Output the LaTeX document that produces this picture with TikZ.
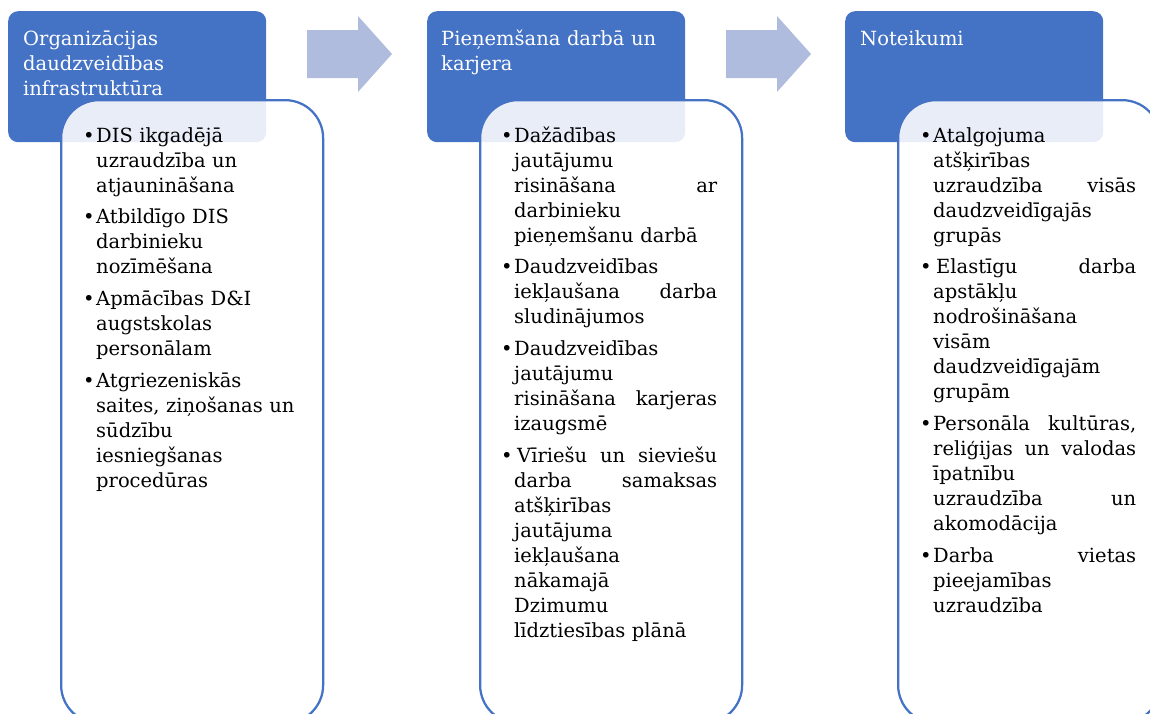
\documentclass[tikz,border=0pt]{standalone}
\usepackage{fontspec}
\setmainfont{DejaVu Serif}
\setlength\parindent{0pt}
\definecolor{hdr}{RGB}{68,114,196}
\definecolor{arr}{RGB}{175,188,222}
\newcommand\bul{\hspace*{0pt}\makebox[0pt][r]{•\hspace{1.5pt}}}
\tikzset{
  hdrbox/.style={fill=hdr, draw=none, rounded corners=10pt, anchor=north west,
    minimum width=258pt, minimum height=131pt, inner sep=0pt},
  bodybox/.style={draw=hdr, line width=2.25pt, fill=white, fill opacity=0.88,
    rounded corners=38pt, anchor=north west, minimum width=262pt, minimum height=623pt, inner sep=0pt},
  hdrtext/.style={anchor=north west, inner sep=0pt, text=white, align=left,
    text width=240pt, font=\fontsize{19.5}{25}\selectfont},
  itemtext/.style={anchor=north west, inner sep=0pt, text=black, align=left,
    text width=203pt, font=\fontsize{19.5}{25}\selectfont},
  arrowshape/.style={fill=arr, draw=none}
}
\begin{document}
\begin{tikzpicture}[x=1pt,y=-1pt]
\useasboundingbox (0,0) rectangle (1150,713);
\clip (0,0) rectangle (1150,713);
% arrows
\fill[arrowshape] (307,30) -- (358,30) -- (358,16) -- (392,54) -- (358,92) -- (358,78) -- (307,78) -- cycle;
\fill[arrowshape] (726,30) -- (777,30) -- (777,16) -- (811,54) -- (777,92) -- (777,78) -- (726,78) -- cycle;
% headers
\node[hdrbox] (h1) at (8,11) {};
\node[hdrbox] (h2) at (427,11) {};
\node[hdrbox] (h3) at (845,11) {};
% bodies
\node[bodybox] (b1) at (60,99) {};
\node[bodybox] (b2) at (479,99) {};
\node[bodybox] (b3) at (897,99) {};
% header texts
\node[hdrtext] (t1) at (23,29) {\rule{0pt}{16pt}Organizācijas\\daudzveidības\\infrastruktūra};
\node[hdrtext] (t2) at (441,29) {\rule{0pt}{16pt}Pieņemšana darbā un\\karjera};
\node[hdrtext] (t3) at (860,29) {\rule{0pt}{16pt}Noteikumi};
% body texts
\node[itemtext] (l1) at (96,126) {\rule{0pt}{16pt}\bul DIS ikgadējā\\
uzraudzība un\\
atjaunināšana\\[6.7pt]
\bul Atbildīgo DIS\\
darbinieku\\
nozīmēšana\\[6.7pt]
\bul Apmācības D\&I\\
augstskolas\\
personālam\\[6.7pt]
\bul Atgriezeniskās\\
saites, ziņošanas un\\
sūdzību\\
iesniegšanas\\
procedūras};
\node[itemtext] (l2) at (514,126) {\rule{0pt}{16pt}\bul Dažādības\\
jautājumu\\
risināšana\hfill ar\\
darbinieku\\
pieņemšanu darbā\\[6.7pt]
\bul Daudzveidības\\
iekļaušana\hfill darba\\
sludinājumos\\[6.7pt]
\bul Daudzveidības\\
jautājumu\\
risināšana\hfill karjeras\\
izaugsmē\\[6.7pt]
\bul\hspace{3pt}Vīriešu\hfill un\hfill sieviešu\\
darba\hfill samaksas\\
atšķirības\\
jautājuma\\
iekļaušana\\
nākamajā\\
Dzimumu\\
līdztiesības plānā};
\node[itemtext] (l3) at (933,126) {\rule{0pt}{16pt}\bul Atalgojuma\\
atšķirības\\
uzraudzība\hfill visās\\
daudzveidīgajās\\
grupās\\[6.7pt]
\bul\hspace{3pt}Elastīgu\hfill darba\\
apstākļu\\
nodrošināšana\\
visām\\
daudzveidīgajām\\
grupām\\[6.7pt]
\bul Personāla\hfill kultūras,\\
reliģijas\hfill un\hfill valodas\\
īpatnību\\
uzraudzība\hfill un\\
akomodācija\\[6.7pt]
\bul Darba\hfill vietas\\
pieejamības\\
uzraudzība};
\end{tikzpicture}
\end{document}
